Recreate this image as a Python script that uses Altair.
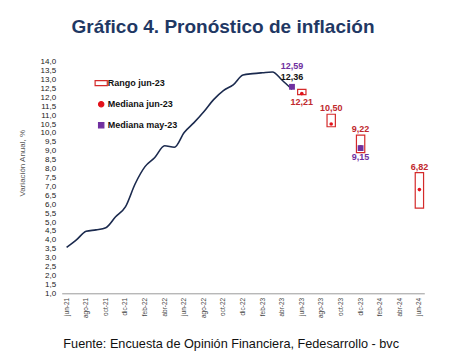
import altair as alt
import pandas as pd

meses = ["jun-21", "jul-21", "ago-21", "sep-21", "oct-21", "nov-21", "dic-21",
         "ene-22", "feb-22", "mar-22", "abr-22", "may-22", "jun-22", "jul-22",
         "ago-22", "sep-22", "oct-22", "nov-22", "dic-22",
         "ene-23", "feb-23", "mar-23", "abr-23", "may-23", "jun-23", "jul-23",
         "ago-23", "sep-23", "oct-23", "nov-23", "dic-23",
         "ene-24", "feb-24", "mar-24", "abr-24", "may-24", "jun-24"]
etiquetas_eje = meses[::2]

# Inflación observada (jun-21 .. may-23)
inflacion_obs = [3.58, 4.0, 4.48, 4.56, 4.68, 5.3, 5.85, 7.15, 8.11, 8.62, 9.28, 9.2,
                 10.03, 10.58, 11.19, 11.87, 12.38, 12.7, 13.25, 13.33, 13.38, 13.42,
                 12.96, 12.45]

# Encuesta jun-23
meses_rango = ["jun-23", "sep-23", "dic-23", "jun-24"]
rango_min = [12.15, 10.35, 8.9, 5.78]
rango_max = [12.45, 11.05, 9.88, 7.77]
mediana_jun = [12.21, 10.50, 9.22, 6.82]
texto_jun = ["12,21", "10,50", "9,22", "6,82"]

# Encuesta may-23
meses_may = ["may-23", "dic-23"]
mediana_may = [12.59, 9.15]
texto_may = ["12,59", "9,15"]

# Dato observado may-23
mes_dato = ["may-23"]
valor_dato = [12.36]
texto_dato = ["12,36"]

series_leyenda = ["Rango jun-23", "Mediana jun-23", "Mediana may-23"]
y_ticks = [1.0, 1.5, 2.0, 2.5, 3.0, 3.5, 4.0, 4.5, 5.0, 5.5, 6.0, 6.5, 7.0, 7.5,
           8.0, 8.5, 9.0, 9.5, 10.0, 10.5, 11.0, 11.5, 12.0, 12.5, 13.0, 13.5, 14.0]

titulo = "Gráfico 4. Pronóstico de inflación"
fuente = ["Fuente: Encuesta de Opinión Financiera, Fedesarrollo - bvc"]

obs_df = pd.DataFrame({"mes": meses[:len(inflacion_obs)], "valor": inflacion_obs})
rango_df = pd.DataFrame({"mes": meses_rango, "min": rango_min, "max": rango_max,
                         "mediana": mediana_jun, "texto": texto_jun})
may_df = pd.DataFrame({"mes": meses_may, "valor": mediana_may, "texto": texto_may})
dato_df = pd.DataFrame({"mes": mes_dato, "valor": valor_dato, "texto": texto_dato})
leyenda_df = pd.DataFrame({"serie": series_leyenda})
fuente_df = pd.DataFrame({"texto": fuente})

RED_BOX = "#d42a2a"
RED_DOT = "#e3121b"
RED_TXT = "#c0282d"
PURPLE = "#7030a0"
NAVY = "#1b2a4e"
FONT = "Liberation Sans"

x_enc = alt.X("mes:O", sort=meses,
              scale=alt.Scale(type="band", domain=meses, paddingInner=0, paddingOuter=0),
              axis=alt.Axis(values=etiquetas_eje, labelAngle=-90, labelFontSize=6.5,
                            labelColor="#444444", ticks=False, domainColor="#9a9a9a",
                            domainWidth=1, title=None, labelPadding=4, grid=False,
                            labelFont=FONT, labelOverlap=False))
y_scale = alt.Scale(domain=[1, 14], nice=False, zero=False)
y_axis = alt.Axis(values=y_ticks,
                  labelExpr="replace(format(datum.value, '.1f'), '.', ',')",
                  title="Variación Anual, %", domain=False, ticks=False, grid=False,
                  labelFontSize=8, labelColor="#222222", labelPadding=6, labelFont=FONT,
                  labelOverlap=False, labelSeparation=0,
                  titleFontSize=8, titleFontWeight="normal", titleColor="#555555",
                  titleFont=FONT, titleX=-39, titleY=101, titleAngle=270,
                  titleAlign="center", titleBaseline="middle")


def yq(campo):
    return alt.Y(campo, scale=y_scale, axis=y_axis)


linea = alt.Chart(obs_df).mark_line(color=NAVY, strokeWidth=1.6,
                                    interpolate="monotone").encode(
    x=x_enc, y=yq("valor:Q"))

cajas = alt.Chart(rango_df).mark_bar(fill="white", stroke=RED_BOX, strokeWidth=1.2,
                                     width={"band": 0.85}).encode(
    x=x_enc, y=yq("min:Q"), y2="max:Q")

puntos = alt.Chart(rango_df).mark_circle(color=RED_DOT, size=13, opacity=1).encode(
    x=x_enc, y=yq("mediana:Q"))

cuadros = alt.Chart(may_df).mark_square(color=PURPLE, size=34, opacity=1).encode(
    x=x_enc, y=yq("valor:Q"))

txt = dict(font=FONT, fontSize=9, fontWeight="bold", baseline="middle", align="center")

lab_arriba = alt.Chart(rango_df).transform_filter("datum.mes != 'jun-23'").mark_text(
    color=RED_TXT, dy=-6, **txt).encode(x=x_enc, y=yq("max:Q"), text="texto:N")
lab_abajo = alt.Chart(rango_df).transform_filter("datum.mes == 'jun-23'").mark_text(
    color=RED_TXT, dy=7, **txt).encode(x=x_enc, y=yq("min:Q"), text="texto:N")
lab_may_a = alt.Chart(may_df).transform_filter("datum.mes == 'may-23'").mark_text(
    color=PURPLE, dy=-21, **txt).encode(x=x_enc, y=yq("valor:Q"), text="texto:N")
lab_may_b = alt.Chart(may_df).transform_filter("datum.mes == 'dic-23'").mark_text(
    color=PURPLE, dy=9, **txt).encode(x=x_enc, y=yq("valor:Q"), text="texto:N")
lab_dato = alt.Chart(dato_df).mark_text(color="#111111", dy=-14, **txt).encode(
    x=x_enc, y=yq("valor:Q"), text="texto:N")

leg = alt.Legend(title=None, orient="none", legendX=35, legendY=17,
                 labelFont=FONT, labelFontSize=9, labelFontWeight="bold",
                 labelColor="#111111", rowPadding=10, labelOffset=2,
                 symbolSize=28, symbolStrokeWidth=1.2, symbolOpacity=1)
leyenda = alt.Chart(leyenda_df).transform_filter("false").mark_point(
    filled=True, opacity=1).encode(
    shape=alt.Shape("serie:N", scale=alt.Scale(domain=series_leyenda,
                    range=["M-2.3,-0.95H2.3V0.95H-2.3Z", "circle", "square"]), legend=leg),
    fill=alt.Fill("serie:N", scale=alt.Scale(domain=series_leyenda,
                  range=["white", RED_DOT, PURPLE]), legend=leg),
    stroke=alt.Stroke("serie:N", scale=alt.Scale(domain=series_leyenda,
                      range=[RED_BOX, RED_DOT, PURPLE]), legend=leg))

pie = alt.Chart(fuente_df).mark_text(font=FONT, fontSize=12.7, color="#111111",
                                     align="center", baseline="alphabetic").encode(
    x=alt.value(169.5), y=alt.value(286), text="texto:N")

chart = alt.layer(linea, cajas, puntos, cuadros, lab_arriba, lab_abajo, lab_may_a,
                  lab_may_b, lab_dato, pie, leyenda).properties(
    width=362.6, height=231.6,
    title=alt.TitleParams(titulo, font=FONT, fontSize=19, fontWeight="bold",
                          color="#1f3864", anchor="middle", dx=-20, offset=21),
    padding={"left": 53.7, "top": 53.7, "right": 24.7, "bottom": 59.7},
    autosize=alt.AutoSizeParams(type="none"),
).configure_view(stroke=None).configure_axisY(labelOverlap=False)

chart.save("out.html", embed_options={"renderer": "svg", "actions": False})
